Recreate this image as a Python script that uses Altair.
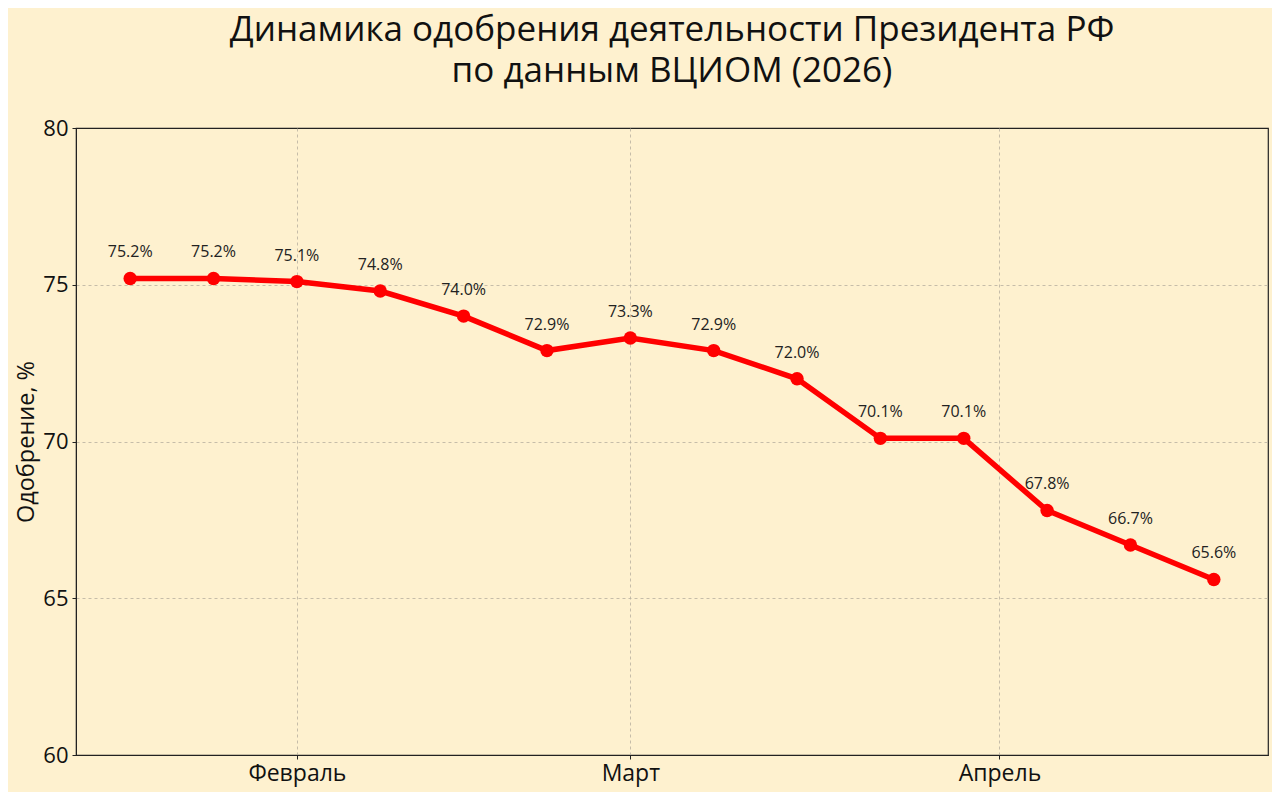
import altair as alt
import pandas as pd

dates = ["2026-01-18", "2026-01-25", "2026-02-01", "2026-02-08", "2026-02-15",
         "2026-02-22", "2026-03-01", "2026-03-08", "2026-03-15", "2026-03-22",
         "2026-03-29", "2026-04-05", "2026-04-12", "2026-04-19"]
values = [75.2, 75.2, 75.1, 74.8, 74.0, 72.9, 73.3, 72.9, 72.0, 70.1, 70.1, 67.8, 66.7, 65.6]
month_names = ["Январь", "Февраль", "Март", "Апрель"]
title_lines = ["Динамика одобрения деятельности Президента РФ", "по данным ВЦИОМ (2026)"]
y_title = "Одобрение, %"

df = pd.DataFrame({"date": dates, "value": values})

FONT = "Open Sans"
BG = "#fef1cf"
RED = "#ff0000"

labels_js = "[" + ",".join("'" + m + "'" for m in month_names) + "]"

x_scale = alt.Scale(
    type="utc",
    domain=[alt.DateTime(year=2026, month=1, date=13, hours=10, minutes=48, utc=True),
            alt.DateTime(year=2026, month=4, date=23, hours=13, minutes=12, utc=True)],
)
y_scale = alt.Scale(domain=[60, 80], nice=False, zero=False)

x_enc = alt.X(
    "date:T",
    scale=x_scale,
    axis=alt.Axis(
        title=None,
        values=[alt.DateTime(year=2026, month=m, date=1, utc=True) for m in (2, 3, 4)],
        labelExpr=labels_js + "[utcmonth(datum.value)]",
        grid=True,
    ),
)
y_enc = alt.Y(
    "value:Q",
    scale=y_scale,
    axis=alt.Axis(
        title=y_title,
        values=[60, 65, 70, 75, 80],
        grid=True,
        gridOpacity=alt.condition("datum.value == 60 || datum.value == 80", alt.value(0), alt.value(1)),
    ),
)

base = alt.Chart(df).encode(x=x_enc, y=y_enc)

line = base.mark_line(color=RED, strokeWidth=5.5)
pts = base.mark_point(filled=True, color=RED, size=180, opacity=1)
txt = base.transform_calculate(
    label="format(datum.value, '.1f') + '%'"
).mark_text(dy=-26, fontSize=16, font=FONT, color="#222222", baseline="middle").encode(
    text="label:N"
)

chart = (line + pts + txt).properties(
    width=1192,
    height=627,
    autosize=alt.AutoSizeParams(type="none"),
    padding={"left": 68, "top": 120, "right": 4, "bottom": 37},
    background=BG,
    title=alt.TitleParams(
        text=title_lines,
        fontSize=35,
        font=FONT,
        fontWeight="normal",
        color="#111111",
        anchor="middle",
        offset=28,
        lineHeight=41,
    ),
).configure_view(
    stroke="#222222", strokeWidth=1.2, fill=BG
).configure_axis(
    labelFont=FONT,
    titleFont=FONT,
    labelColor="#111111",
    titleColor="#111111",
    domainColor="#222222",
    tickColor="#222222",
    tickSize=4,
    gridColor="#b8b0a0",
    gridDash=[3, 3],
    gridWidth=0.8,
).configure_axisX(
    labelFontSize=23, labelPadding=3
).configure_axisY(
    labelFontSize=22, titleFontSize=23.5, titleFontWeight="normal", labelPadding=4, titlePadding=4
)

chart.save("out.html", embed_options={"renderer": "svg", "actions": False})
